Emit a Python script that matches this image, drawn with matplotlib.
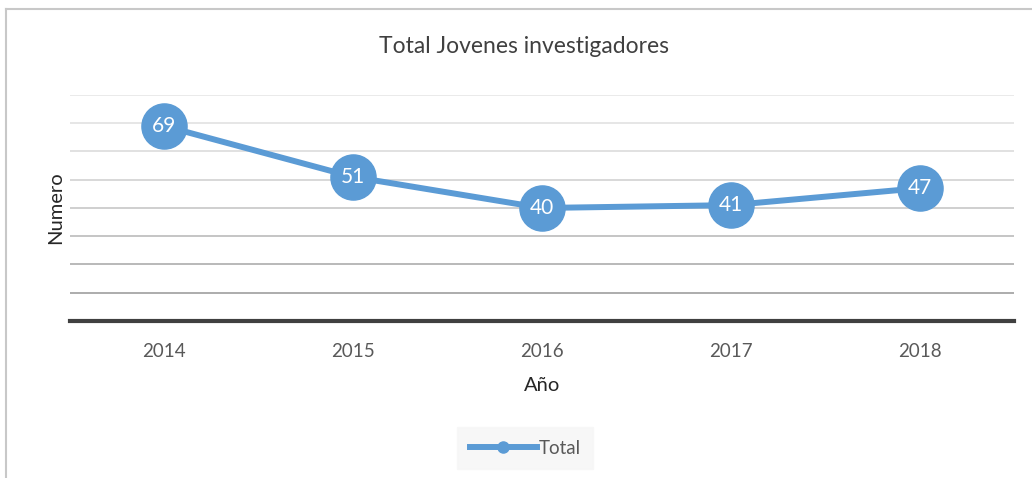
import matplotlib.pyplot as plt
from matplotlib.lines import Line2D

years = ['2014', '2015', '2016', '2017', '2018']
total = [69, 51, 40, 41, 47]
grid_vals = [10, 20, 30, 40, 50, 60, 70, 80]

blue = '#5B9BD5'
plt.rcParams['font.family'] = ['Lato', 'DejaVu Sans']

fig = plt.figure(figsize=(10.32, 4.78), dpi=100)
ax = fig.add_axes([0.0678, 0.3285, 0.9147, 0.4728])

# gridlines fade lighter toward the top, like the original
grid_cols = ['#a6a6a6', '#b3b3b3', '#c0c0c0', '#cccccc', '#d6d6d6', '#dedede', '#e4e4e4', '#e8e8e8']
for v, c in zip(grid_vals, grid_cols):
    ax.axhline(v, color=c, lw=1.3, zorder=0)

x = range(len(years))
ax.plot(x, total, color=blue, lw=4.3, marker='o', ms=32.5, label='Total', zorder=3)
for xi, v in zip(x, total):
    ax.text(xi, v, str(v), color='white', fontsize=15, ha='center', va='center', zorder=4)

ax.set_xlim(-0.5, len(years) - 0.5)
ax.set_ylim(0, 80)
ax.set_xticks(list(x))
ax.set_xticklabels(years)
ax.set_yticks([])
ax.tick_params(axis='x', length=0, pad=16, labelsize=13.5, labelcolor='#595959')
for s in ['top', 'right', 'left']:
    ax.spines[s].set_visible(False)
ax.spines['bottom'].set_color('#404040')
ax.spines['bottom'].set_linewidth(3)

ax.set_xlabel('Año', fontsize=14.5, color='#262626', labelpad=12)
ax.set_ylabel('Numero', fontsize=14.5, color='#262626', labelpad=4)
fig.text(0.508, 0.902, 'Total Jovenes investigadores', fontsize=16.5, color='#404040',
         ha='center', va='center')

leg = fig.legend(handles=[Line2D([0], [0], color=blue, lw=4.3, marker='o', ms=8)],
                 labels=['Total'], loc='center', bbox_to_anchor=(0.509, 0.0625),
                 fontsize=13.5, frameon=True, fancybox=False, handlelength=3.6,
                 handletextpad=0.1, borderpad=0.65, borderaxespad=0)
leg.get_frame().set_facecolor('#f6f6f6')
leg.get_frame().set_edgecolor('#f6f6f6')
for t in leg.get_texts():
    t.set_color('#595959')

# outer chart border (top and left edges visible)
fig.add_artist(Line2D([0.006, 1.0], [0.981, 0.981], color='#c8c8c8', lw=1.5))
fig.add_artist(Line2D([0.006, 0.006], [0.0, 0.981], color='#c8c8c8', lw=1.5))

fig.savefig('out.png', dpi=100)
